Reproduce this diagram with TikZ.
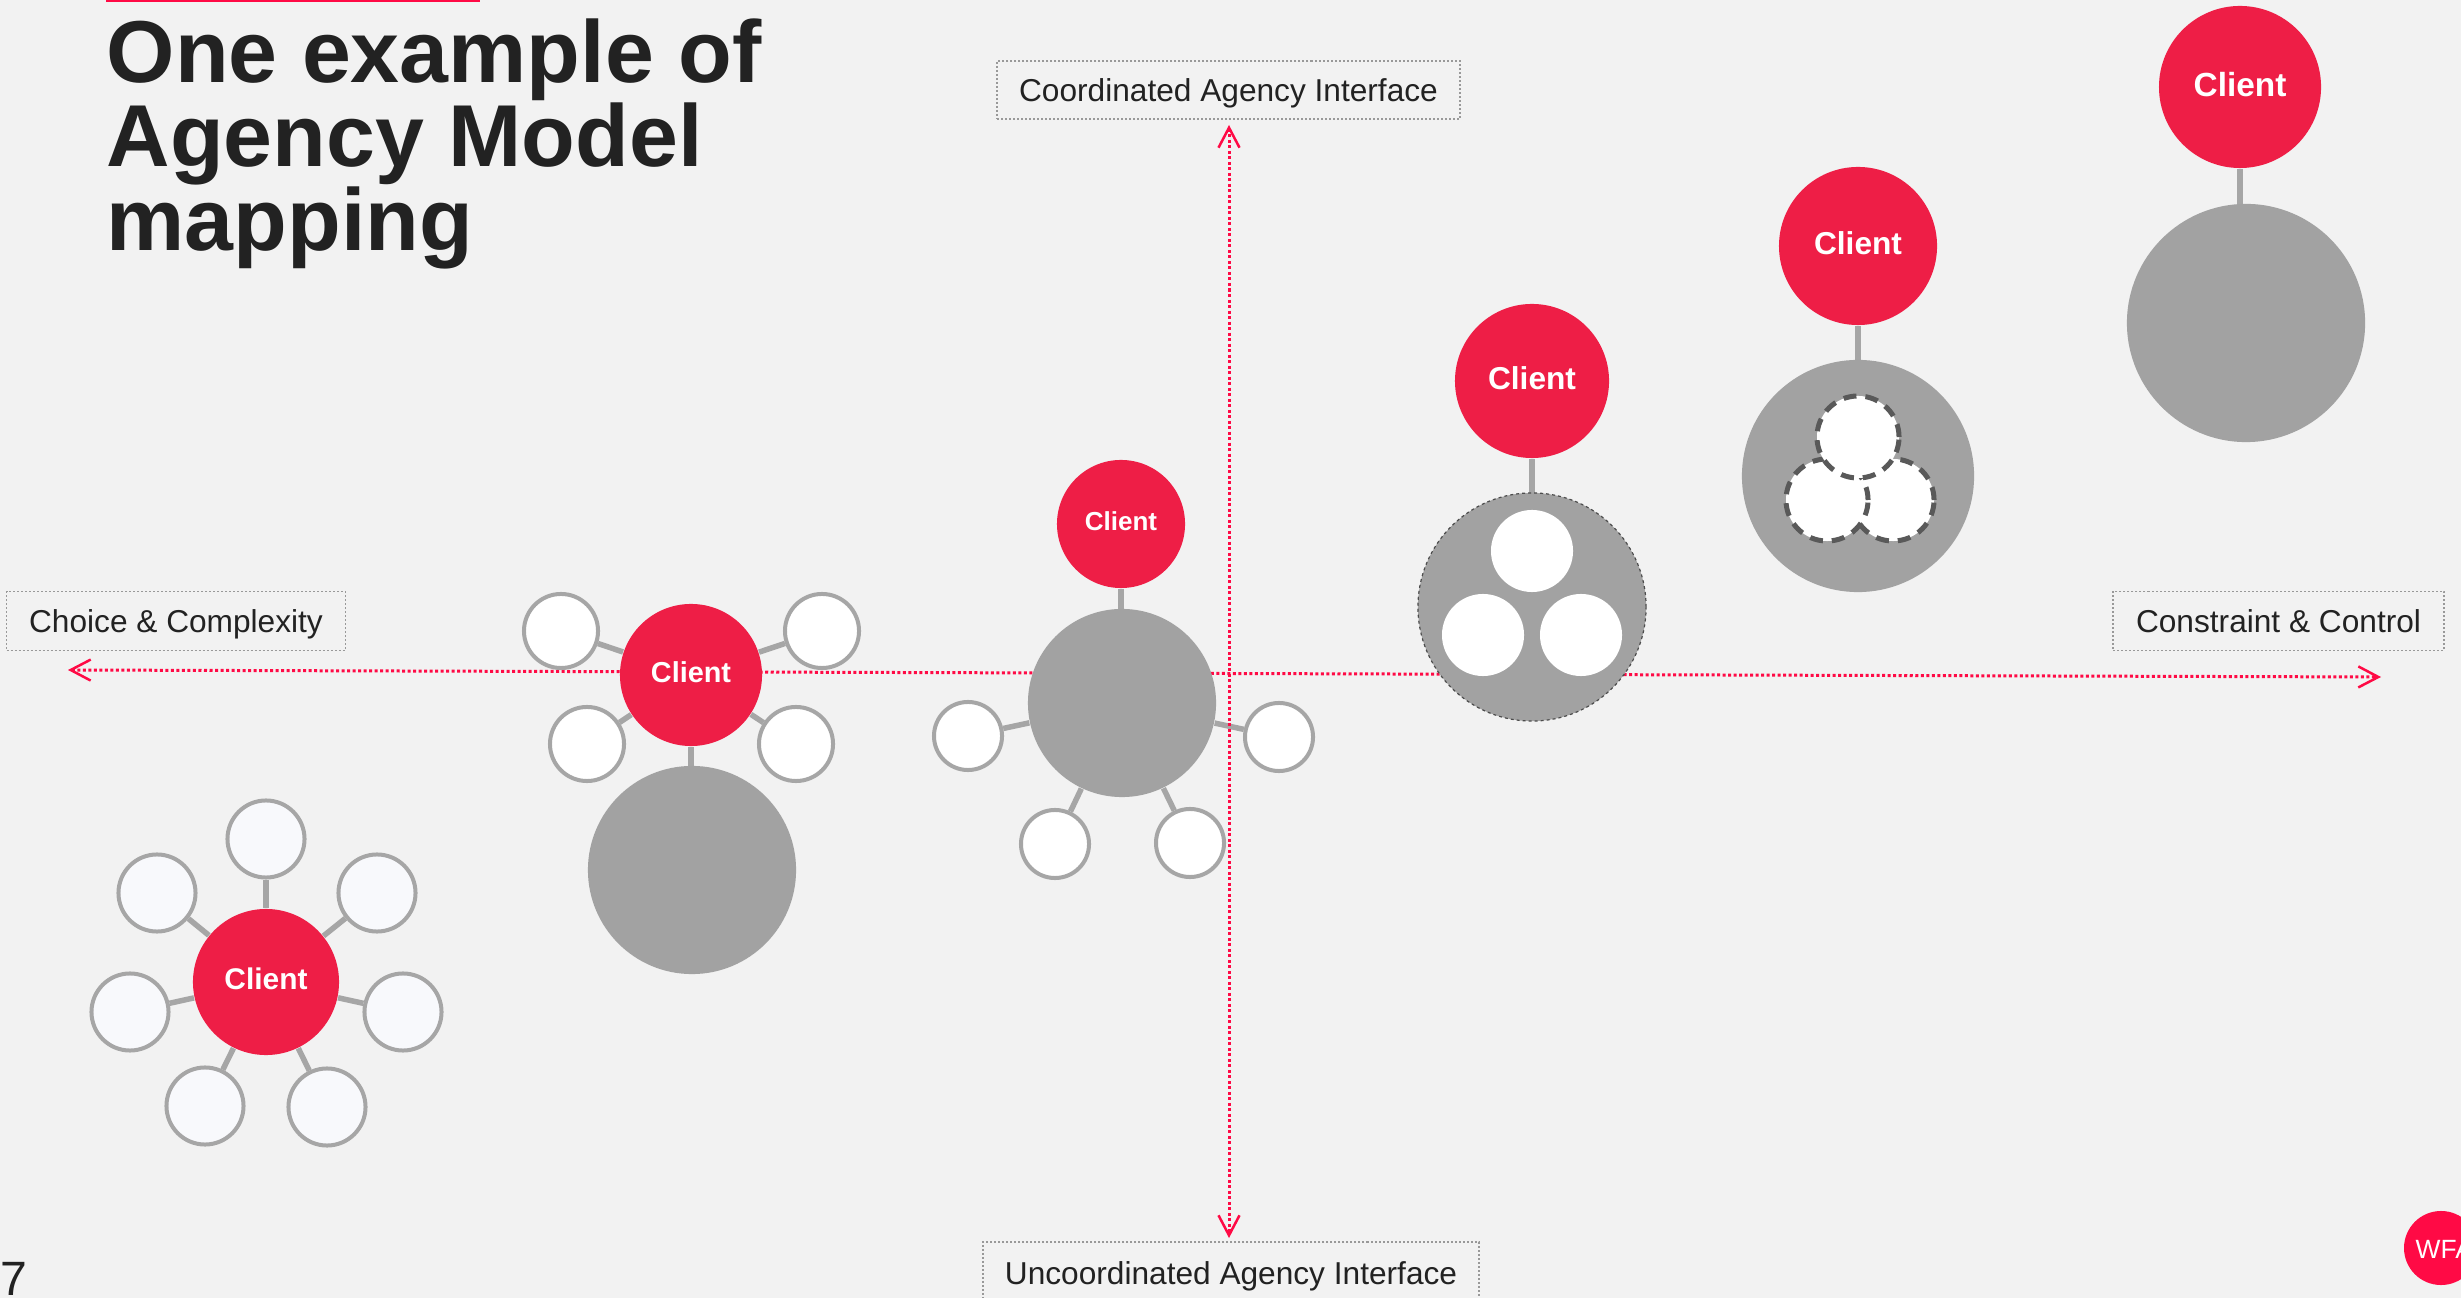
\documentclass[tikz,border=0pt]{standalone}
\usepackage{fontspec}
\setmainfont{Liberation Sans}
\usetikzlibrary{arrows.meta}
\definecolor{clientred}{HTML}{EE1E46}
\definecolor{axisred}{HTML}{FF0A45}
\definecolor{padgray}{HTML}{A2A2A2}
\definecolor{linegray}{HTML}{A6A6A6}
\definecolor{pagegray}{HTML}{F2F2F2}
\definecolor{inktext}{HTML}{222222}
\definecolor{softwhite}{HTML}{F8F9FC}
\pgfdeclarelayer{page}
\pgfdeclarelayer{links}
\pgfdeclarelayer{axes}
\pgfsetlayers{page,links,axes,main}
\tikzset{%
  myaxis/.style={<->, draw=axisred, line width=0.03cm, dash pattern=on 0.03cm off 0.025cm,
    >={Straight Barb[length=0.2cm, width=0.21cm, line width=0.025cm]}},
  mylink/.style={draw=linegray, line width=0.055cm},
  myclient/.style={circle, fill=clientred, text=white, text depth=0.06cm, font=\bfseries\fontsize{#1}{#1}\selectfont, inner sep=0pt},
  myhub/.style={circle, fill=padgray, inner sep=0pt, minimum size=#1*0.02cm},
  mysat/.style={circle, draw=linegray, line width=0.04cm, fill=white, inner sep=0pt, minimum size=#1*0.02cm},
  myhole/.style={circle, fill=white, inner sep=0pt, minimum size=#1*0.02cm},
  mydash/.style={circle, draw=black!65, line width=0.05cm, dash pattern=on 0.13cm off 0.09cm, fill=white, inner sep=0pt, minimum size=#1*0.02cm},
  mylabel/.style={draw=black!40, line width=0.012cm, dash pattern=on 0.02cm off 0.02cm, text=inktext, inner sep=0pt, text height=0.23cm, text depth=0pt, font=\fontsize{9}{11}\selectfont}
}

\begin{document}
\begin{tikzpicture}[x=0.01cm, y=-0.01cm]
\useasboundingbox (0,0) rectangle (2461,1298);
\begin{pgfonlayer}{page}
  \fill [pagegray] (0,0) rectangle (2461,1298);
\end{pgfonlayer}
\fill [axisred] (106,0) rectangle (480,2);

% title and page furniture
\node [anchor=base west, align=left, inner sep=0pt, text=inktext, font=\bfseries\fontsize{25}{24}\selectfont] (title) at (106,251)
  {One example of\\Agency Model\\mapping};
\node [anchor=base west, inner sep=0pt, text=inktext, font=\fontsize{13.7}{15}\selectfont] (page) at (0,1295) {7};
\node [circle, fill=axisred, inner sep=0pt, minimum size=0.74cm] (wfa) at (2441,1248) {};
\node [anchor=base west, inner sep=0pt, text=white, font=\fontsize{7.5}{9}\selectfont] (wfatext) at (2415,1258) {WFA};

% axis labels
\foreach \nm / \cx / \cy / \bw / \bh / \txt in {
  coord/1228.5/90/463/58/Coordinated Agency Interface,
  uncoord/1231/1273/496/62/Uncoordinated Agency Interface,
  choice/176/621/339/59/Choice \& Complexity,
  constraint/2278.5/621/331/59/Constraint \& Control}{
  \node [mylabel, minimum width=\bw*0.01cm, minimum height=\bh*0.01cm] (\nm) at (\cx,\cy) {\txt};
}

% client alone over the hub
\node [myclient=9.5, minimum size=1.62cm] (C1) at (2240,87) {Client};
\node [myhub=119] (H1) at (2246,323) {};

% hub with dashed teams
\node [myclient=9, minimum size=1.58cm] (C2) at (1858,246) {Client};
\node [myhub=116] (H2) at (1858,476) {};
\node [mydash=41] (D3) at (1893,500) {};
\node [mydash=41] (D2) at (1827,500) {};
\node [mydash=41] (D1) at (1858,437) {};

% hub with solid teams
\node [myclient=9, minimum size=1.54cm] (C3) at (1532,381) {Client};
\node [myhub=114, draw=black!70, line width=0.012cm, dash pattern=on 0.03cm off 0.03cm] (H3) at (1532,607) {};
\foreach \nm / \x / \y in {T1/1532/551, T2/1483/635, T3/1581/635}{
  \node [myhole=41] (\nm) at (\x,\y) {};
}

% hub with four satellites
\node [myclient=7.4, minimum size=1.28cm] (C4) at (1121,524) {Client};
\node [myhub=94] (H4) at (1122,703) {};
\foreach \nm / \x / \y in {P1/968/736, P2/1279/737, P3/1055/844, P4/1190/843}{
  \node [mysat=34] (\nm) at (\x,\y) {};
  \begin{pgfonlayer}{links}
    \draw [mylink] (H4) -- (\nm);
  \end{pgfonlayer}
}

% client with four satellites over the hub
\node [myclient=8.2, minimum size=1.42cm] (C5) at (691,675) {Client};
\node [myhub=104] (H5) at (692,870) {};
\foreach \nm / \x / \y in {Q1/561/631, Q2/822/631, Q3/587/744, Q4/796/744}{
  \node [mysat=37] (\nm) at (\x,\y) {};
  \begin{pgfonlayer}{links}
    \draw [mylink] (C5) -- (\nm);
  \end{pgfonlayer}
}

% client with seven satellites
\node [myclient=8.5, minimum size=1.46cm] (C6) at (266,982) {Client};
\foreach \nm / \x / \y in {R1/266/839, R2/157/893, R3/377/893, R4/130/1012, R5/403/1012, R6/205/1106, R7/327/1107}{
  \node [mysat=38.5, fill=softwhite] (\nm) at (\x,\y) {};
  \begin{pgfonlayer}{links}
    \draw [mylink] (C6) -- (\nm);
  \end{pgfonlayer}
}

\begin{pgfonlayer}{links}
  \foreach \i in {1,...,5} {
    \draw [mylink, line width=0.065cm] (C\i) -- (C\i |- H\i);
  }
\end{pgfonlayer}

% the two axes
\coordinate (axisL) at (68,670);
\coordinate (axisR) at (2381,677);
\coordinate (axisT) at (1229,125);
\coordinate (axisB) at (1229,1238);
\begin{pgfonlayer}{axes}
  \draw [myaxis] (axisL) -- (axisR);
  \draw [myaxis] (axisT) -- (axisB);
\end{pgfonlayer}

\end{tikzpicture}
\end{document}
